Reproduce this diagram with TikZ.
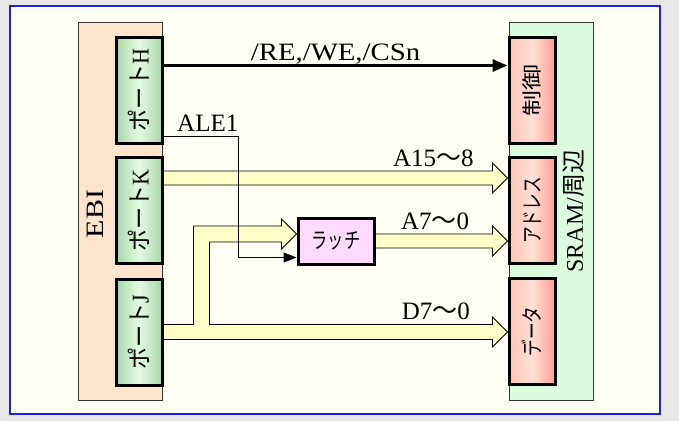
\documentclass[tikz,border=0pt]{standalone}
\usepackage{fontspec}
\setmainfont{Liberation Serif}
\newfontfamily\jp{Noto Sans CJK JP}
\usepackage{graphicx}
\usetikzlibrary{calc,arrows.meta}
\definecolor{outerbg}{RGB}{232,232,232}
\definecolor{panelbg}{RGB}{255,255,246}
\definecolor{frameblue}{RGB}{30,30,225}
\definecolor{ebipeach}{RGB}{253,228,202}
\definecolor{sramgreen}{RGB}{220,252,222}
\definecolor{portedge}{RGB}{168,214,168}
\definecolor{portmid}{RGB}{226,251,226}
\definecolor{redleft}{RGB}{255,196,180}
\definecolor{redmid}{RGB}{255,224,210}
\definecolor{redright}{RGB}{255,160,145}
\definecolor{latchpink}{RGB}{255,218,255}
\definecolor{busyellow}{RGB}{255,255,200}
\pgfdeclarelayer{back}
\pgfsetlayers{back,main}

\begin{document}
\begin{tikzpicture}[x=1pt, y=-1pt,
    outerbox/.style={rectangle, draw=black!80, line width=0.8pt, inner sep=0pt, minimum width=84, minimum height=378},
    port/.style={rectangle, draw, line width=3pt, inner sep=0pt, minimum width=46, minimum height=106,
        left color=portedge, right color=portedge, middle color=portmid, font=\jp\fontsize{24}{24}\selectfont},
    part/.style={port, left color=redleft, right color=redright, middle color=redmid, font=\jp\fontsize{22}{22}\selectfont},
    bus/.style={draw=black, line width=0.8pt, fill=busyellow, line join=miter},
    sig/.style={font=\fontsize{25}{25}\selectfont, anchor=base, yshift=5pt, inner sep=0pt}]
            % Panel
            \begin{pgfonlayer}{back}
            \fill[outerbg] (0,0) rectangle (679,421);
            \draw[frameblue, line width=1.5pt, fill=panelbg] (10,6) rectangle (660,414);
            \node[outerbox, fill=ebipeach] (ebi) at (120,211) {};
            \node[outerbox, fill=sramgreen] (sram) at (551,211) {};
            \end{pgfonlayer}
            \useasboundingbox (0,0) rectangle (679,421);

            % EBI
            \node[inner sep=0pt, font=\fontsize{25}{25}\selectfont] (ebilabel) at (95,214) {\rotatebox{90}{\scalebox{1.2}[1]{EBI}}};
            \node[port] (portH) at (139,90) {\rotatebox{90}{\scalebox{0.92}[1]{ポート\rmfamily H}}};
            \node[port] (portK) at (139,210.5) {\rotatebox{90}{\scalebox{0.92}[1]{ポート\rmfamily K}}};
            \node[port] (portJ) at (139,332) {\rotatebox{90}{\scalebox{0.92}[1]{ポート\rmfamily J}}};

            % SRAM
            \node[inner sep=0pt, font=\fontsize{24}{24}\selectfont] (sramlabel) at (574,211) {\rotatebox{90}{SRAM/{\jp 周辺}}};
            \node[part, font=\jp\fontsize{20}{20}\selectfont] (ctrl) at (532,90) {\rotatebox{90}{\scalebox{1.3}[1]{制御}}};
            \node[part] (addr) at (532,210.5) {\rotatebox{90}{\scalebox{0.76}[1]{アドレス}}};
            \node[part] (data) at (532,331.5) {\rotatebox{90}{\scalebox{0.76}[1]{データ}}};

            % Latch
            \node[rectangle, draw, line width=3pt, fill=latchpink, inner sep=0pt, minimum width=76, minimum height=46,
                font=\jp\fontsize{22}{22}\selectfont] (latch) at (336,241) {\scalebox{0.74}[1]{ラッチ}};

            % Buses
            \begin{pgfonlayer}{back}
            \coordinate (k0) at ([yshift=-22pt]portK.north east);
            \coordinate (k1) at (addr.west |- k0);
            \draw[bus] ($(k0)+(0,-7)$) -- node[sig, pos=0.82] {A15{\jp 〜}8} ($(k1)+(-15,-7)$) -- ($(k1)+(-15,-15)$)
                -- (k1) -- ($(k1)+(-15,15)$) -- ($(k1)+(-15,7)$) -- ($(k0)+(0,7)$) -- cycle;

            \coordinate (l1) at (addr.west |- latch.east);
            \draw[bus] ($(latch.east)+(0,-7)$) -- node[sig, pos=0.51] {A7{\jp 〜}0} ($(l1)+(-15,-7)$) -- ($(l1)+(-15,-15)$)
                -- (l1) -- ($(l1)+(-15,15)$) -- ($(l1)+(-15,7)$) -- ($(latch.east)+(0,7)$) -- cycle;

            \coordinate (j0) at (portJ.east);
            \coordinate (j1) at (data.west |- j0);
            \coordinate (bx) at ([xshift=38pt]portJ.east);
            \coordinate (br) at ([yshift=7pt]latch.west);
            \coordinate (bc) at (bx |- br);
            \draw[bus] ($(j0)+(0,-7.5)$) -- ($(bx)+(-8,-7.5)$) -- ($(bc)+(-8,-8)$) -- ($(br)+(-15,-8)$) -- ($(br)+(-15,-15)$)
                -- (br) -- ($(br)+(-15,15)$) -- ($(br)+(-15,8)$) -- ($(bc)+(8,8)$) -- ($(bx)+(8,-7.5)$)
                -- node[sig, pos=0.8] {D7{\jp 〜}0} ($(j1)+(-15,-7.5)$) -- ($(j1)+(-15,-15)$) -- (j1)
                -- ($(j1)+(-15,15)$) -- ($(j1)+(-15,7.5)$) -- ($(j0)+(0,7.5)$) -- cycle;
            \end{pgfonlayer}

            % Control and ALE
            \draw[line width=3pt, -{Triangle[length=15pt,width=12pt]}] ([yshift=-30pt]portH.north east)
                -- node[sig, midway] {\scalebox{1.15}[1]{/RE,/WE,/CSn}} ([yshift=-30pt]ctrl.north west);
            \draw[line width=1pt, -{Triangle[length=13pt,width=10pt]}] ([yshift=8pt]portH.south east)
                -- node[sig, pos=0.59] {ALE1} ++(75,0) |- ([yshift=8pt]latch.south west);
        \end{tikzpicture}
\end{document}
